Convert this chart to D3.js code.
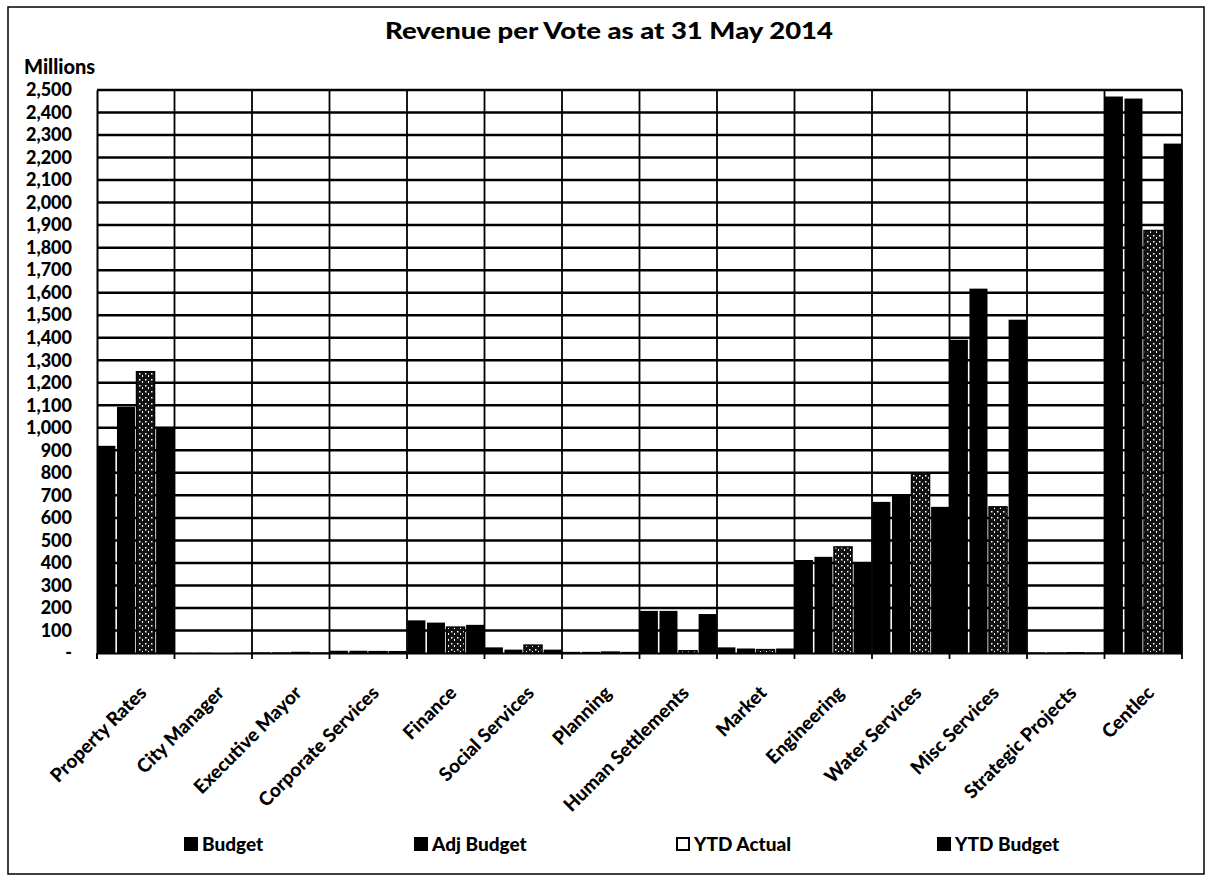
<!DOCTYPE html>
<html>
<head>
<meta charset="utf-8">
<script src="https://cdn.jsdelivr.net/npm/d3@7"></script>
<style>
  body { margin: 0; background: #fff; }
  svg text { font-family: Lato, "Open Sans", sans-serif; font-weight: 900; fill: #000; }
</style>
</head>
<body>
<div id="chart"></div>
<script>
const categories = ["Property Rates", "City Manager", "Executive Mayor", "Corporate Services",
    "Finance", "Social Services", "Planning", "Human Settlements", "Market",
    "Engineering", "Water Services", "Misc Services", "Strategic Projects", "Centlec"];
const seriesNames = ["Budget", "Adj Budget", "YTD Actual", "YTD Budget"];

// millions
const budget     = [920, 1, 3, 10, 145, 25, 5, 187, 25, 413, 671, 1391, 3, 2471];
const adjBudget  = [1093, 1, 3, 10, 135, 15, 5, 187, 20, 427, 698, 1618, 3, 2462];
const ytdActual  = [1249, 0, 2, 6, 115, 35, 4, 10, 15, 471, 800, 649, 1, 1876];
const ytdBudget  = [1004, 1, 3, 9, 125, 15, 5, 173, 20, 404, 649, 1480, 3, 2262];
const yTicks = d3.range(0, 2501, 100);

const W = 1212, H = 879;
const margin = {left: 97, right: 30, top: 90, bottom: 226};

const svg = d3.select("#chart").append("svg")
    .attr("width", W).attr("height", H);

// speckled fill for YTD Actual
const pat = svg.append("defs").append("pattern")
    .attr("id", "speckle").attr("patternUnits", "userSpaceOnUse")
    .attr("width", 6).attr("height", 6);
pat.append("rect").attr("width", 6).attr("height", 6).attr("fill", "#111");
pat.append("rect").attr("x", 1).attr("y", 1).attr("width", 1.5).attr("height", 1.5).attr("fill", "#fff");
pat.append("rect").attr("x", 4).attr("y", 3).attr("width", 1).attr("height", 2).attr("fill", "#fff");

// outer frame
svg.append("rect").attr("x", 8).attr("y", 7).attr("width", W - 16).attr("height", H - 12)
    .attr("fill", "none").attr("stroke", "#000").attr("stroke-width", 1.5);

const x = d3.scaleBand().domain(categories)
    .range([margin.left, W - margin.right]).padding(0);
const xs = d3.scaleBand().domain(seriesNames)
    .range([0, x.bandwidth()]).paddingInner(0.08).paddingOuter(0.02);
const y = d3.scaleLinear().domain([0, 2500])
    .range([H - margin.bottom, margin.top]);

// horizontal grid
svg.append("g").selectAll("line").data(yTicks.slice(1)).join("line")
    .attr("x1", margin.left).attr("x2", W - margin.right)
    .attr("y1", d => y(d)).attr("y2", d => y(d))
    .attr("stroke", "#000").attr("stroke-width", 2.5);

// vertical category dividers
svg.append("g").selectAll("line").data(categories).join("line")
    .attr("x1", d => x(d) + x.bandwidth()).attr("x2", d => x(d) + x.bandwidth())
    .attr("y1", margin.top).attr("y2", H - margin.bottom + 6)
    .attr("stroke", "#000").attr("stroke-width", 1.8);

// bars
const series = [budget, adjBudget, ytdActual, ytdBudget];
const rows = [];
categories.forEach((c, i) => seriesNames.forEach((s, j) => rows.push({c, s, v: series[j][i]})));

svg.append("g").selectAll("rect").data(rows).join("rect")
    .attr("x", d => x(d.c) + xs(d.s))
    .attr("width", xs.bandwidth())
    .attr("y", d => y(d.v))
    .attr("height", d => y(0) - y(d.v))
    .attr("fill", d => d.s === "YTD Actual" ? "url(#speckle)" : "#000")
    .attr("stroke", "#000").attr("stroke-width", d => d.s === "YTD Actual" ? 1.5 : 0);

// y axis
const yAxis = svg.append("g").attr("transform", `translate(${margin.left},0)`)
    .call(d3.axisLeft(y).tickValues(yTicks).tickSize(0).tickPadding(25)
        .tickFormat(d => d === 0 ? "-" : d3.format(",")(d)));
yAxis.select(".domain").attr("stroke-width", 2);
yAxis.selectAll("text").attr("font-size", 18);

// x axis
const xAxis = svg.append("g").attr("transform", `translate(0,${y(0)})`)
    .call(d3.axisBottom(x).tickSize(0));
xAxis.select(".domain").attr("stroke-width", 2);
xAxis.selectAll("text")
    .attr("font-size", 19)
    .attr("text-anchor", "end")
    .attr("x", 0).attr("y", 0).attr("dy", 0)
    .attr("transform", "translate(12,41) rotate(-45)");
svg.append("line").attr("x1", margin.left).attr("x2", margin.left)
    .attr("y1", y(0)).attr("y2", y(0) + 6).attr("stroke", "#000").attr("stroke-width", 2);

// top border of plot
svg.append("line").attr("x1", margin.left).attr("x2", W - margin.right)
    .attr("y1", margin.top).attr("y2", margin.top).attr("stroke", "#000").attr("stroke-width", 2);

// title
svg.append("text").attr("x", 385).attr("y", 39)
    .attr("font-size", 23).attr("textLength", 448).attr("lengthAdjust", "spacingAndGlyphs")
    .text("Revenue per Vote as at 31 May 2014");
svg.append("text").attr("x", 24).attr("y", 74).attr("font-size", 20).text("Millions");

// legend
const legendX = [185, 415, 677, 938];
const lg = svg.append("g").selectAll("g").data(seriesNames).join("g")
    .attr("transform", (d, i) => `translate(${legendX[i]},851)`);
lg.append("rect").attr("x", 0).attr("y", -13).attr("width", 12).attr("height", 12)
    .attr("fill", d => d === "YTD Actual" ? "#fff" : "#000")
    .attr("stroke", "#000").attr("stroke-width", 2);
lg.append("text").attr("x", 17).attr("y", 0).attr("font-size", 19).text(d => d);
</script>
</body>
</html>
